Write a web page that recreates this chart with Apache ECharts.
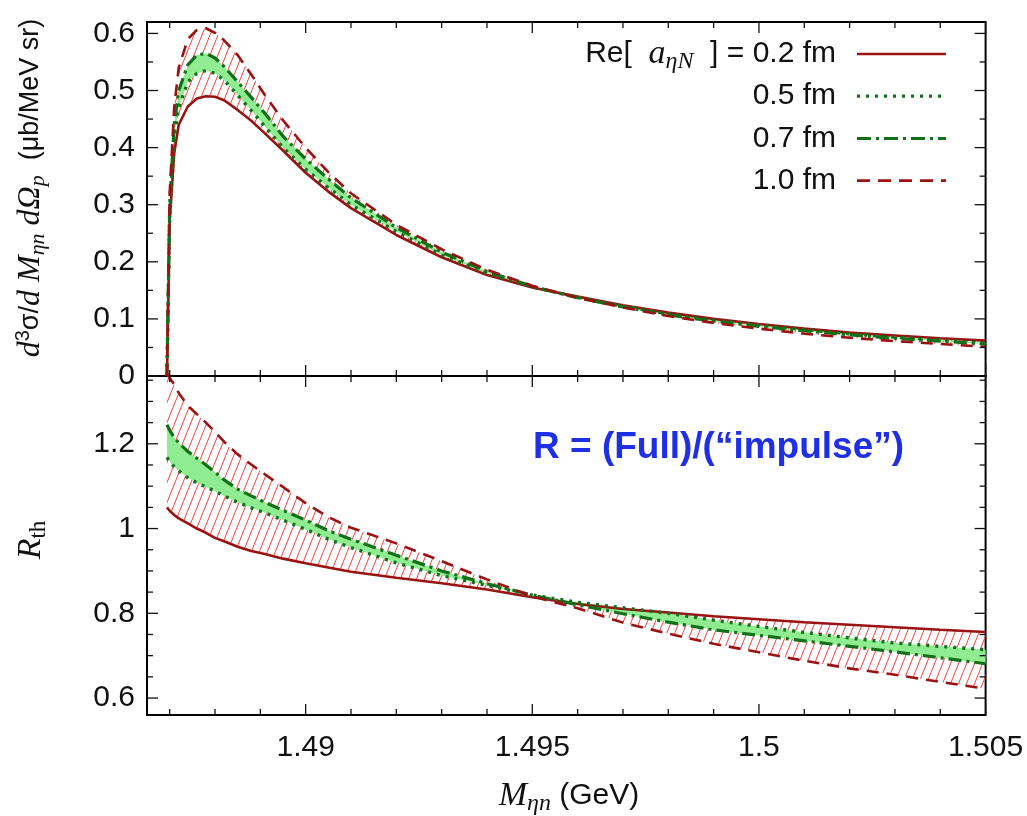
<!DOCTYPE html>
<html><head><meta charset="utf-8">
<script src="https://cdn.jsdelivr.net/npm/echarts@6/dist/echarts.min.js"></script>
<style>html,body{margin:0;padding:0;background:#fff}#c{width:1027px;height:816px}</style>
</head><body><div id="c"></div>
<script>
// ---------- data ----------
const mass = [1.48694, 1.4870, 1.4871, 1.4872, 1.4874, 1.4876, 1.4878, 1.4880, 1.4882, 1.4885,
  1.4888, 1.4891, 1.4895, 1.490, 1.4905, 1.491, 1.492, 1.493, 1.494, 1.495,
  1.496, 1.497, 1.498, 1.499, 1.500, 1.501, 1.502, 1.503, 1.504, 1.505];

// top panel: d3sigma/dM dOmega (mub/MeV sr)
const xs02 = [0, 0.27, 0.39, 0.44, 0.472, 0.486, 0.490, 0.489, 0.483, 0.466,
  0.447, 0.425, 0.395, 0.356, 0.323, 0.294, 0.247, 0.208, 0.177, 0.155,
  0.139, 0.124, 0.111, 0.100, 0.091, 0.083, 0.076, 0.071, 0.066, 0.062];
const xs05 = [0, 0.28, 0.42, 0.47, 0.515, 0.530, 0.535, 0.530, 0.518, 0.492,
  0.465, 0.437, 0.400, 0.362, 0.330, 0.300, 0.253, 0.212, 0.180, 0.156,
  0.138, 0.122, 0.109, 0.098, 0.089, 0.081, 0.074, 0.068, 0.063, 0.058];
const xs07 = [0, 0.30, 0.44, 0.50, 0.545, 0.562, 0.565, 0.557, 0.542, 0.515,
  0.488, 0.460, 0.420, 0.380, 0.345, 0.312, 0.260, 0.217, 0.183, 0.157,
  0.137, 0.121, 0.107, 0.096, 0.087, 0.079, 0.072, 0.066, 0.061, 0.056];
const xs10 = [0, 0.32, 0.47, 0.54, 0.590, 0.606, 0.609, 0.601, 0.588, 0.562,
  0.528, 0.492, 0.448, 0.400, 0.357, 0.320, 0.265, 0.222, 0.186, 0.158,
  0.137, 0.120, 0.105, 0.093, 0.083, 0.074, 0.067, 0.061, 0.056, 0.051];

// bottom panel: R_th
const r02 = [1.050, 1.042, 1.032, 1.024, 1.012, 1.000, 0.990, 0.978, 0.970, 0.957,
  0.947, 0.940, 0.929, 0.918, 0.908, 0.898, 0.884, 0.871, 0.856, 0.838,
  0.822, 0.810, 0.802, 0.793, 0.786, 0.779, 0.773, 0.767, 0.761, 0.756];
const r05 = [1.168, 1.158, 1.146, 1.136, 1.120, 1.108, 1.098, 1.088, 1.077, 1.062,
  1.049, 1.037, 1.020, 0.998, 0.975, 0.955, 0.919, 0.889, 0.866, 0.843,
  0.826, 0.813, 0.800, 0.784, 0.769, 0.755, 0.742, 0.730, 0.722, 0.714];
const r07 = [1.245, 1.232, 1.215, 1.202, 1.182, 1.166, 1.150, 1.133, 1.115, 1.093,
  1.077, 1.062, 1.043, 1.020, 0.995, 0.975, 0.937, 0.900, 0.870, 0.843,
  0.820, 0.799, 0.779, 0.761, 0.748, 0.735, 0.722, 0.709, 0.695, 0.681];
const r10 = [1.365, 1.355, 1.340, 1.320, 1.290, 1.270, 1.250, 1.228, 1.205, 1.175,
  1.151, 1.128, 1.098, 1.060, 1.027, 1.002, 0.965, 0.923, 0.880, 0.840,
  0.812, 0.778, 0.752, 0.728, 0.708, 0.688, 0.670, 0.655, 0.638, 0.622];

const legendLabels = ['0.2 fm', '0.5 fm', '0.7 fm', '1.0 fm'];
const xMajorTicks = [1.49, 1.495, 1.5, 1.505];
const xMinorTicks = [1.487, 1.488, 1.489, 1.491, 1.492, 1.493, 1.494, 1.496, 1.497, 1.498, 1.499,
  1.501, 1.502, 1.503, 1.504];
const yTopMajor = [0, 0.1, 0.2, 0.3, 0.4, 0.5, 0.6];
const yTopMinor = [0.05, 0.15, 0.25, 0.35, 0.45, 0.55];
const yBotMajor = [0.6, 0.8, 1.0, 1.2];
const yBotMinor = [0.65, 0.7, 0.75, 0.85, 0.9, 0.95, 1.05, 1.1, 1.15, 1.25, 1.3, 1.35];

// ---------- ranges ----------
const X_MIN = 1.4865, X_MAX = 1.505;
const TOP_MIN = 0, TOP_MAX = 0.62;
const BOT_MIN = 0.56, BOT_MAX = 1.36;

const RED = '#9b1212', GREEN = '#12701a', LIGHTGREEN = '#90ec90';
const FONT = 'Liberation Sans';
const SERIF = 'Liberation Serif';

function makeHatch() {
  const c = document.createElement('canvas');
  c.width = 8; c.height = 20;
  const g = c.getContext('2d');
  g.strokeStyle = '#f04444';
  g.lineWidth = 1;
  g.beginPath();
  for (let k = -1; k <= 1; k++) { g.moveTo(k * 8, 20); g.lineTo(k * 8 + 8, 0); }
  g.stroke();
  return c;
}
const hatch = makeHatch();

const pairs = (ys) => mass.map((x, i) => [x, ys[i]]);

function band(gi, lower, upper, fill, z) {
  return {
    type: 'custom', xAxisIndex: gi, yAxisIndex: gi, clip: true, silent: true, z: z,
    data: [[1.495, gi === 0 ? 0.3 : 0.9]],
    renderItem: function (params, api) {
      const pts = [];
      for (let i = 0; i < mass.length; i++) pts.push(api.coord([mass[i], upper[i]]));
      for (let i = mass.length - 1; i >= 0; i--) pts.push(api.coord([mass[i], lower[i]]));
      return { type: 'polygon', shape: { points: pts }, style: { fill: fill, stroke: null } };
    }
  };
}

function line(gi, ys, color, type, width, z) {
  return {
    type: 'line', xAxisIndex: gi, yAxisIndex: gi, data: pairs(ys), symbol: 'none',
    smooth: false, clip: true, silent: true, z: z,
    lineStyle: { color: color, width: width, type: type, cap: 'butt' }
  };
}

function ticks(gi, yMin, yMax, yMajor, yMinor) {
  const data = [];
  xMajorTicks.forEach(v => data.push([v, 0, 1]));
  xMinorTicks.forEach(v => data.push([v, 0, 0]));
  yMajor.forEach(v => data.push([v, 1, 1]));
  yMinor.forEach(v => data.push([v, 1, 0]));
  return {
    type: 'custom', xAxisIndex: gi, yAxisIndex: gi, clip: false, silent: true, z: 10,
    encode: { x: 0, y: 1 },
    data: data,
    renderItem: function (params, api) {
      const v = api.value(0), kind = api.value(1), major = api.value(2);
      const len = major ? 11 : 6;
      const st = { stroke: '#111', lineWidth: 1.3 };
      if (kind === 0) {
        const a = api.coord([v, yMin]), b = api.coord([v, yMax]);
        return { type: 'group', children: [
          { type: 'line', shape: { x1: a[0], y1: a[1], x2: a[0], y2: a[1] - len }, style: st },
          { type: 'line', shape: { x1: b[0], y1: b[1], x2: b[0], y2: b[1] + len }, style: st }
        ] };
      } else {
        const a = api.coord([X_MIN, v]), b = api.coord([X_MAX, v]);
        return { type: 'group', children: [
          { type: 'line', shape: { x1: a[0], y1: a[1], x2: a[0] + len, y2: a[1] }, style: st },
          { type: 'line', shape: { x1: b[0], y1: b[1], x2: b[0] - len, y2: b[1] }, style: st }
        ] };
      }
    }
  };
}

const labelStyle = { fontFamily: FONT, fontSize: 30, color: '#111' };

const rich = {
  n: { fontFamily: FONT, fontSize: 30, fill: '#111' },
  i: { fontFamily: SERIF, fontStyle: 'italic', fontSize: 34, fill: '#111' },
  s: { fontFamily: SERIF, fontStyle: 'italic', fontSize: 24, fill: '#111', padding: [16, 0, 0, 0] },
  tn: { fontFamily: FONT, fontSize: 27, fill: '#111' },
  ti: { fontFamily: SERIF, fontStyle: 'italic', fontSize: 32, fill: '#111' },
  ts: { fontFamily: SERIF, fontStyle: 'italic', fontSize: 22, fill: '#111', padding: [15, 0, 0, 0] },
  su: { fontFamily: SERIF, fontSize: 23, fill: '#111', padding: [16, 0, 0, 0] },
  sup: { fontFamily: FONT, fontSize: 20, fill: '#111', padding: [0, 0, 15, 0] }
};

function legendRow(idx, text, color, dash, width) {
  const y = 54 + idx * 42.2;
  return [
    { type: 'text', x: 836, y: y, z: 20,
      style: { text: text, rich: rich, align: 'right', verticalAlign: 'middle',
        textAlign: 'right', textVerticalAlign: 'middle', fontFamily: FONT, fontSize: 30, fill: '#111' } },
    { type: 'line', z: 20, shape: { x1: 857, y1: y, x2: 946, y2: y },
      style: { stroke: color, lineWidth: width, lineDash: dash } }
  ];
}

const option = {
  animation: false,
  backgroundColor: '#fff',
  grid: [
    { left: 147, right: 41.4, top: 22, height: 354, show: true, borderColor: '#000', borderWidth: 2, backgroundColor: 'transparent' },
    { left: 147, right: 41.4, top: 376, height: 339, show: true, borderColor: '#000', borderWidth: 2, backgroundColor: 'transparent' }
  ],
  xAxis: [
    { type: 'value', gridIndex: 0, min: X_MIN, max: X_MAX, interval: 0.0005,
      axisLine: { show: false }, axisTick: { show: false }, splitLine: { show: false }, axisLabel: { show: false } },
    { type: 'value', gridIndex: 1, min: X_MIN, max: X_MAX, interval: 0.0005,
      axisLine: { show: false }, axisTick: { show: false }, splitLine: { show: false },
      axisLabel: Object.assign({ margin: 18, showMinLabel: true, showMaxLabel: true,
        formatter: function (v) {
          const k = Math.round(v * 200);
          if (Math.abs(v * 200 - k) < 1e-4 && v > 1.488) return String(Math.round(v * 1000) / 1000);
          return '';
        } }, labelStyle) }
  ],
  yAxis: [
    { type: 'value', gridIndex: 0, min: TOP_MIN, max: TOP_MAX, interval: 0.02,
      axisLine: { show: false }, axisTick: { show: false }, splitLine: { show: false },
      axisLabel: Object.assign({ margin: 12, showMaxLabel: false,
        formatter: function (v) {
          const k = Math.round(v * 10);
          if (Math.abs(v * 10 - k) < 1e-4 && v < 0.61) return String(k / 10);
          return '';
        } }, labelStyle) },
    { type: 'value', gridIndex: 1, min: BOT_MIN, max: BOT_MAX, interval: 0.02,
      axisLine: { show: false }, axisTick: { show: false }, splitLine: { show: false },
      axisLabel: Object.assign({ margin: 12,
        formatter: function (v) {
          const k = Math.round(v * 5);
          if (Math.abs(v * 5 - k) < 1e-4) return String(k / 5);
          return '';
        } }, labelStyle) }
  ],
  series: [
    band(0, xs02, xs10, { image: hatch, repeat: 'repeat' }, 1),
    band(0, xs05, xs07, LIGHTGREEN, 2),
    line(0, xs02, RED, 'solid', 2.6, 3),
    line(0, xs05, GREEN, [3, 6], 3.4, 4),
    line(0, xs07, GREEN, [13, 5, 3, 5], 3.2, 4),
    line(0, xs10, RED, [12, 8], 2.6, 5),
    ticks(0, TOP_MIN, TOP_MAX, yTopMajor, yTopMinor),

    band(1, r02, r10, { image: hatch, repeat: 'repeat' }, 1),
    band(1, r05, r07, LIGHTGREEN, 2),
    line(1, r02, RED, 'solid', 2.6, 3),
    line(1, r05, GREEN, [3, 6], 3.4, 4),
    line(1, r07, GREEN, [13, 5, 3, 5], 3.2, 4),
    line(1, r10, RED, [12, 8], 2.6, 5),
    ticks(1, BOT_MIN, BOT_MAX, yBotMajor, yBotMinor)
  ],
  graphic: [].concat(
    legendRow(0, '{n|Re[  }{i|a}{s|ηN}{n|  ] = ' + legendLabels[0] + '}', RED, null, 2.6),
    legendRow(1, '{n|' + legendLabels[1] + '}', GREEN, [3, 6], 3.2),
    legendRow(2, '{n|' + legendLabels[2] + '}', GREEN, [14, 5, 3, 5], 3),
    legendRow(3, '{n|' + legendLabels[3] + '}', RED, [13, 8], 2.6),
    [
      { type: 'text', x: 533, y: 448, z: 20,
        style: { text: 'R = (Full)/(\u201Cimpulse\u201D)', fontFamily: FONT, fontWeight: 'bold', fontSize: 37,
          fill: '#1f2fe6', align: 'left', verticalAlign: 'middle', textAlign: 'left', textVerticalAlign: 'middle' } },
      { type: 'text', x: 31, y: 188, rotation: Math.PI / 2, z: 20,
        style: { text: '{ti|d}{sup|3}{tn|σ/}{ti|d M}{ts|ηn}{ti| dΩ}{ts|p}{tn|  (μb/MeV sr)}', rich: rich,
          align: 'center', verticalAlign: 'middle', textAlign: 'center', textVerticalAlign: 'middle',
          fontFamily: FONT, fontSize: 27, fill: '#111' } },
      { type: 'text', x: 31, y: 540, rotation: Math.PI / 2, z: 20,
        style: { text: '{i|R}{su|th}', rich: rich,
          align: 'center', verticalAlign: 'middle', textAlign: 'center', textVerticalAlign: 'middle',
          fontFamily: FONT, fontSize: 30, fill: '#111' } },
      { type: 'text', x: 569, y: 796, z: 20,
        style: { text: '{i|M}{s|ηn}{n| (GeV)}', rich: rich,
          align: 'center', verticalAlign: 'middle', textAlign: 'center', textVerticalAlign: 'middle',
          fontFamily: FONT, fontSize: 30, fill: '#111' } }
    ]
  )
};

const chart = echarts.init(document.getElementById('c'), null, { renderer: 'canvas' });
chart.setOption(option);
</script>
</body></html>
